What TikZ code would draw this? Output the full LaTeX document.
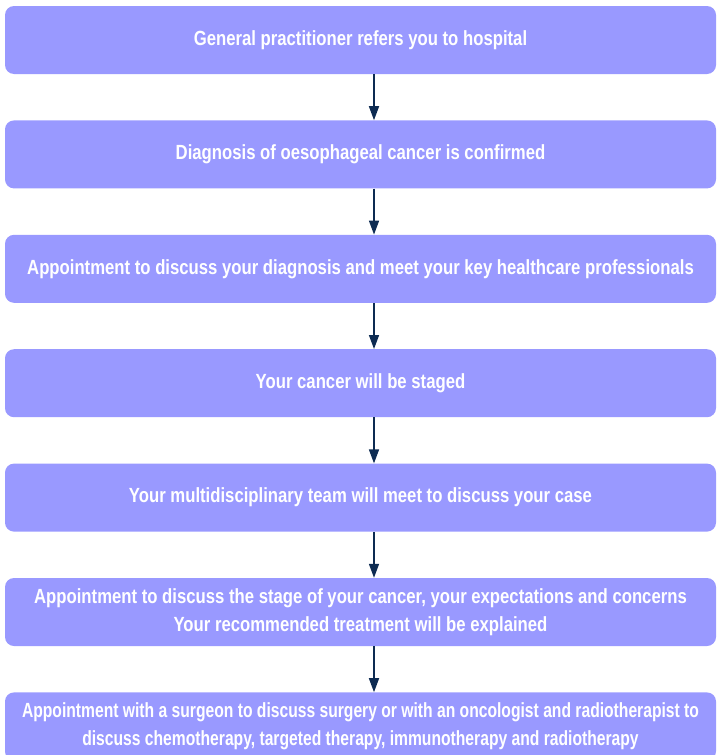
\documentclass[tikz,border=0pt]{standalone}
\usepackage{fontspec}
\setmainfont{Liberation Sans}[FakeStretch=0.815]
\newfontfamily\tightfont{Liberation Sans}[FakeStretch=0.764]
\usetikzlibrary{positioning, arrows.meta}
\definecolor{boxblue}{HTML}{9999FF}
\definecolor{arrownavy}{HTML}{0D2B52}
\tikzset{
  stepbox/.style={
    rectangle,
    rounded corners=9pt,
    minimum width=711pt,
    minimum height=68pt,
    inner sep=0pt,
    align=center,
    fill=boxblue,
    text=white,
    font=\fontsize{20.5}{27.5}\selectfont\bfseries
  },
  flow/.style={
    draw=arrownavy,
    line width=1.5pt,
    -{Triangle[length=14pt,width=10pt]}
  }
}
\begin{document}
\begin{tikzpicture}[x=1pt, y=1pt]
        \clip (0,0) rectangle (717,-755);
        \coordinate (ax) at (374,0);
        \node[stepbox] (gp) at (360.5,-40) {General practitioner refers you to hospital};
        \node[stepbox, below=46pt of gp] (diag) {Diagnosis of oesophageal cancer is confirmed};
        \node[stepbox, below=46pt of diag] (meet) {Appointment to discuss your diagnosis and meet your key healthcare professionals};
        \node[stepbox, below=46pt of meet] (staged) {Your cancer will be staged};
        \node[stepbox, below=46pt of staged] (mdt) {Your multidisciplinary team will meet to discuss your case};
        \node[stepbox, below=46pt of mdt] (stage) {Appointment to discuss the stage of your cancer, your expectations and concerns\\Your recommended treatment will be explained};
        \node[stepbox, below=46pt of stage, font=\fontsize{20.5}{27.5}\tightfont\bfseries] (treat) {Appointment with a surgeon to discuss surgery or with an oncologist and radiotherapist to\\discuss chemotherapy, targeted therapy, immunotherapy and radiotherapy};

        \draw[flow] (gp.south -| ax) -- (diag.north -| ax);
        \draw[flow] (diag.south -| ax) -- (meet.north -| ax);
        \draw[flow] (meet.south -| ax) -- (staged.north -| ax);
        \draw[flow] (staged.south -| ax) -- (mdt.north -| ax);
        \draw[flow] (mdt.south -| ax) -- (stage.north -| ax);
        \draw[flow] (stage.south -| ax) -- (treat.north -| ax);
      \end{tikzpicture}
\end{document}
